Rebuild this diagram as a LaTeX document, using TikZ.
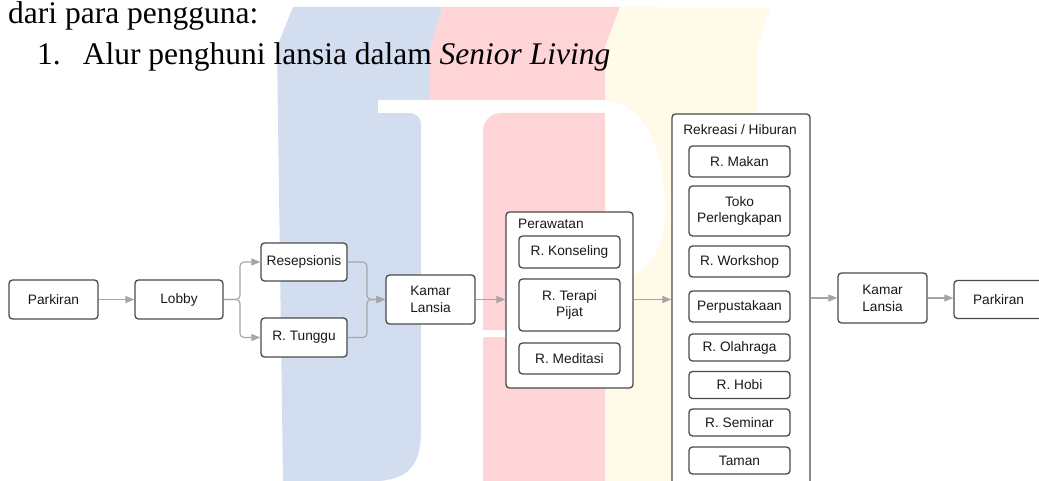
\documentclass[tikz,border=0pt]{standalone}
\usepackage{fontspec}
\setmainfont{Liberation Serif}
\setsansfont{Liberation Sans}
\usepackage{xcolor}
\usepackage{tikz}
\usetikzlibrary{arrows.meta}

\definecolor{wmblue}{HTML}{D3DDF0}
\definecolor{wmred}{HTML}{FFD4D7}
\definecolor{wmyellow}{HTML}{FFFBE8}
\definecolor{boxline}{HTML}{4A4A4A}
\definecolor{flowline}{HTML}{A5A5A5}

\begin{document}
\begin{tikzpicture}[x=1pt,y=-1pt,
  box/.style={draw=boxline, line width=1.3pt, rounded corners=3.5pt, fill=white,
    align=center, inner sep=0pt, text=black!90,
    font=\sffamily\fontsize{13.7}{16.8}\selectfont},
  label/.style={inner sep=0pt, text=black!90, font=\sffamily\fontsize{13.7}{16.8}\selectfont},
  flow/.style={draw=flowline, line width=1.1pt, rounded corners=4pt,
    -{Triangle[length=9pt,width=7pt]}},
  para/.style={anchor=base west, inner sep=0pt, font=\fontsize{31.5}{38}\selectfont}]
\useasboundingbox (0,0) rectangle (1039,481);

% logo in the page background
\fill[wmblue] (277,47) -- (293,7) -- (443,7) -- (430,47) -- (430,481) -- (283,481) -- cycle;
\fill[wmred] (430,47) -- (443,7) -- (620,7) -- (605,47) -- (605,481) -- (430,481) -- cycle;
\fill[wmyellow] (605,47) -- (620,7) -- (770,8) -- (757,47) -- (757,481) -- (605,481) -- cycle;
\fill[white] (378,100) -- (600,100) .. controls (645,100) and (665,150) .. (665,210)
  .. controls (665,250) and (650,275) .. (605,290) -- (605,337) -- (483,337) -- (483,481)
  -- (380,481) .. controls (412,478) and (421,462) .. (421,430) -- (421,125)
  .. controls (421,117) and (417,113) .. (409,113) -- (378,113) -- cycle;
\fill[wmred] (483,330) [rounded corners=18pt]-- (483,113) [sharp corners]-- (605,113) -- (605,330) -- cycle;

\node[para] (intro) at (8,24) {dari para pengguna:};
\node[para] (item) at (37,65) {1.\hspace{22pt}Alur penghuni lansia dalam \textit{Senior Living}};

\node[box, minimum width=89, minimum height=39] (park1) at (53.5,299.5) {Parkiran};
\node[box, minimum width=88, minimum height=39] (lobby) at (179,299.5) {Lobby};
\node[box, minimum width=86, minimum height=38] (resep) at (304,262) {Resepsionis};
\node[box, minimum width=86, minimum height=39] (tunggu) at (304,337.5) {R. Tunggu};
\node[box, minimum width=89, minimum height=49] (kamar1) at (430.5,299.5) {Kamar\\Lansia};

\node[box, minimum width=127, minimum height=176] (rawat) at (569.5,300) {};
\node[label, anchor=west] (rawatlbl) at (518,224) {Perawatan};
\node[box, minimum width=101, minimum height=32] (konseling) at (569.5,252) {R. Konseling};
\node[box, minimum width=101, minimum height=52] (terapi) at (569.5,305) {R. Terapi\\Pijat};
\node[box, minimum width=101, minimum height=31] (meditasi) at (569.5,358.5) {R. Meditasi};

\node[box, minimum width=138, minimum height=383] (rekreasi) at (741,305.5) {};
\node[label] (rekreasilbl) at (740,130) {Rekreasi / Hiburan};
\node[box, minimum width=101, minimum height=31] (makan) at (739.5,161.5) {R. Makan};
\node[box, minimum width=101, minimum height=50] (toko) at (739.5,211) {Toko\\Perlengkapan};
\node[box, minimum width=101, minimum height=31] (workshop) at (739.5,261.5) {R. Workshop};
\node[box, minimum width=101, minimum height=31] (perpus) at (739.5,306.5) {Perpustakaan};
\node[box, minimum width=101, minimum height=27] (olahraga) at (739.5,347.5) {R. Olahraga};
\node[box, minimum width=101, minimum height=27] (hobi) at (739.5,385) {R. Hobi};
\node[box, minimum width=101, minimum height=27] (seminar) at (739.5,422.5) {R. Seminar};
\node[box, minimum width=101, minimum height=27] (taman) at (739.5,460.5) {Taman};

\node[box, minimum width=89, minimum height=50] (kamar2) at (882.5,298) {Kamar\\Lansia};
\node[box, minimum width=89, minimum height=38] (park2) at (998.5,299.5) {Parkiran};

\coordinate (split) at (240,299.5);
\coordinate (join) at (367,299.5);

\draw[flow] (lobby.east) -- (split) |- (resep.west);
\draw[flow] (lobby.east) -- (split) |- (tunggu.west);
\draw[flow] (resep.east) -| (join) -- (kamar1.west);
\draw[flow] (tunggu.east) -| (join) -- (kamar1.west);

\draw[flow] (park1.east) -- (lobby.west);
\draw[flow] (kamar1.east) -- (rawat.west |- kamar1.east);
\draw[flow] (rawat.east |- kamar1.east) -- (rekreasi.west |- kamar1.east);
\draw[flow] (rekreasi.east |- kamar2.west) -- (kamar2.west);
\draw[flow] (kamar2.east) -- (park2.west |- kamar2.east);
\end{tikzpicture}
\end{document}
